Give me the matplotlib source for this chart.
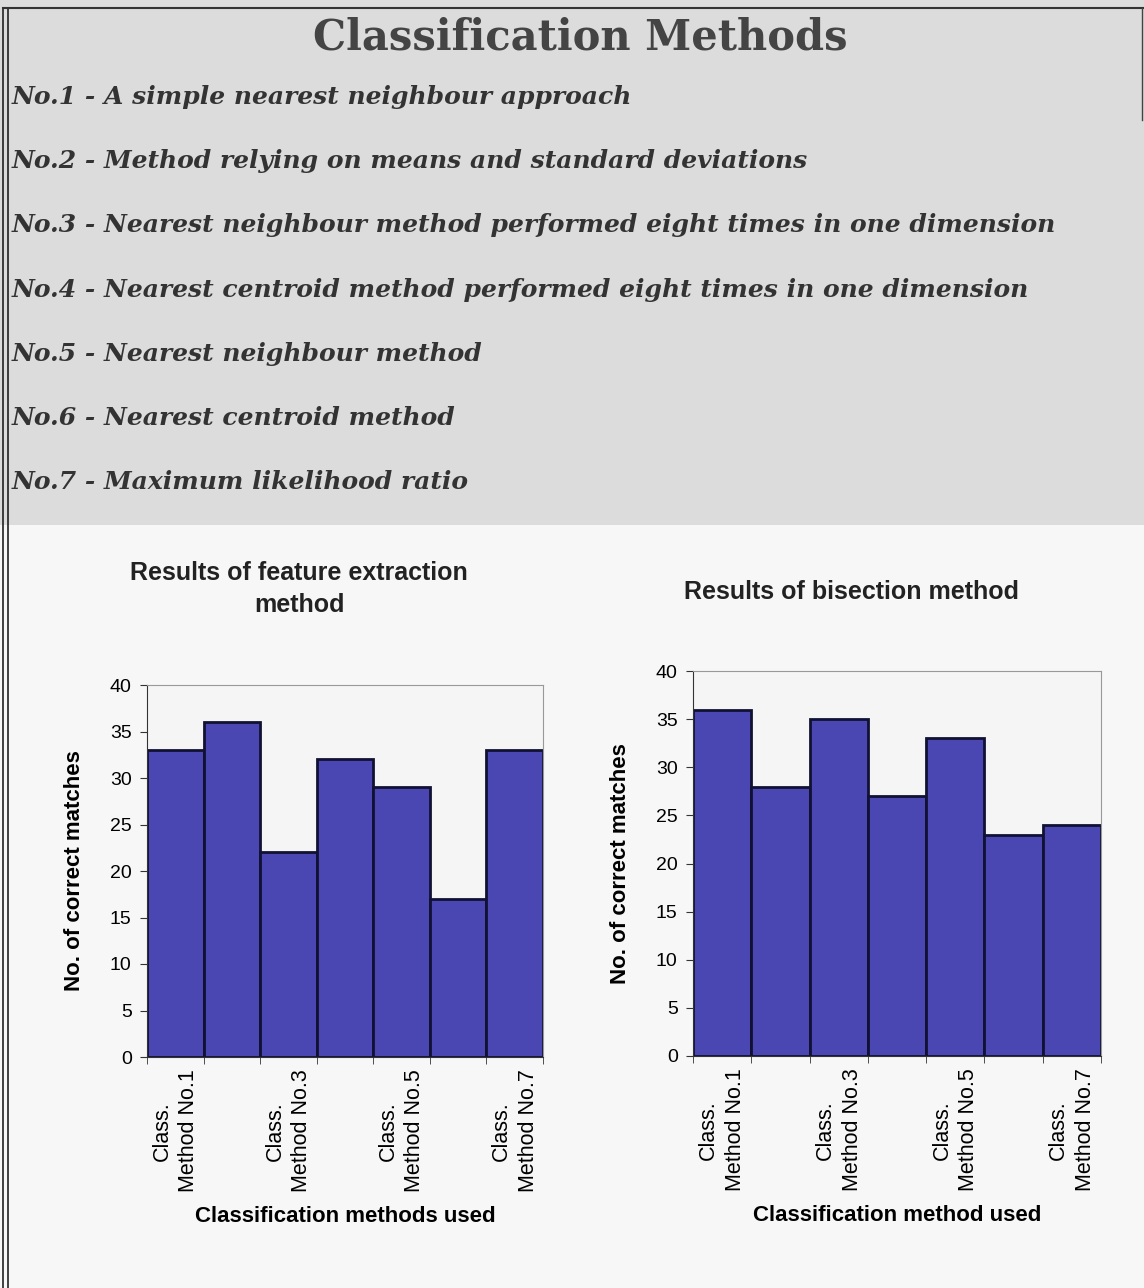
import matplotlib
matplotlib.use("Agg")
import matplotlib.pyplot as plt
from matplotlib.lines import Line2D
from matplotlib.patches import Rectangle

# results of the two experiments
methods = [1, 2, 3, 4, 5, 6, 7]
feature_matches = [33, 36, 22, 32, 29, 17, 33]
bisection_matches = [36, 28, 35, 27, 33, 23, 24]
tick_names = ["Class.\nMethod No.1", "Class.\nMethod No.3",
              "Class.\nMethod No.5", "Class.\nMethod No.7"]
method_lines = [
    "No.1 - A simple nearest neighbour approach",
    "No.2 - Method relying on means and standard deviations",
    "No.3 - Nearest neighbour method performed eight times in one dimension",
    "No.4 - Nearest centroid method performed eight times in one dimension",
    "No.5 - Nearest neighbour method",
    "No.6 - Nearest centroid method",
    "No.7 - Maximum likelihood ratio",
]

W, H = 1144, 1288
fig = plt.figure(figsize=(W / 100, H / 100), dpi=100)
fig.patch.set_facecolor("#f7f7f7")


def fx(px):
    return px / W


def fy(py):
    return 1 - py / H


# grey header panel behind the list of methods
fig.add_artist(Rectangle((0, fy(525)), 1, 1 - fy(525), transform=fig.transFigure,
                         facecolor="#dcdcdc", edgecolor="none", zorder=0))
# frame lines
for x in (3, 8):
    fig.add_artist(Line2D([fx(x), fx(x)], [0, fy(8)], color="#222222", lw=1.2))
fig.add_artist(Line2D([fx(3), 1], [fy(8), fy(8)], color="#333333", lw=1.5))
fig.add_artist(Line2D([fx(1142), fx(1142)], [fy(8), fy(120)], color="#444444", lw=1.0))

fig.text(fx(580), fy(38), "Classification Methods", family="DejaVu Serif",
         weight="bold", fontsize=30, color="#444444", ha="center", va="center")

for i, line in enumerate(method_lines):
    fig.text(fx(12), fy(97 + i * 64.2), line, family="DejaVu Serif", weight="bold",
             style="italic", fontsize=18, color="#333333", ha="left", va="center")

bar_color = "#4a47b2"
label_font = "Liberation Sans"


def draw_panel(rect, values, title, xlabel, title_x, title_y):
    ax = fig.add_axes(rect)
    ax.set_facecolor("#f5f5f5")
    ax.bar(methods, values, width=1.0, color=bar_color, edgecolor="#111133", linewidth=2)
    ax.set_xlim(0.5, 7.5)
    ax.set_ylim(0, 40)
    ax.set_yticks(range(0, 41, 5))
    ax.set_xticks([1, 3, 5, 7])
    ax.set_xticklabels(tick_names, rotation=90, family=label_font, fontsize=15.5,
                       multialignment="center", linespacing=1.35)
    ax.set_xticks([m + 0.5 for m in range(0, 8)], minor=True)
    ax.tick_params(axis="x", which="major", length=0, pad=9)
    ax.tick_params(axis="x", which="minor", length=5, direction="out", color="#333333")
    ax.tick_params(axis="y", length=5, direction="out", color="#333333",
                   labelsize=14, pad=6)
    for lab in ax.get_yticklabels():
        lab.set_family(label_font)
    for side in ("top", "right"):
        ax.spines[side].set_color("#999999")
    for side in ("left", "bottom"):
        ax.spines[side].set_color("#333333")
    ax.set_ylabel("No. of correct matches", family=label_font, weight="bold",
                  fontsize=16, labelpad=18)
    ax.set_xlabel(xlabel, family=label_font, weight="bold", fontsize=16, labelpad=10)
    fig.text(title_x, title_y, title, family=label_font, weight="bold", fontsize=18,
             ha="center", va="center", color="#222222", linespacing=1.45)
    return ax


draw_panel([fx(147), fy(1057), fx(543) - fx(147), fy(685) - fy(1057)],
           feature_matches, "Results of feature extraction\nmethod",
           "Classification methods used", fx(299), fy(589))
draw_panel([fx(693), fy(1056), fx(1101) - fx(693), fy(671) - fy(1056)],
           bisection_matches, "Results of bisection method",
           "Classification method used", fx(851), fy(592))

fig.savefig("out.png", dpi=100)
